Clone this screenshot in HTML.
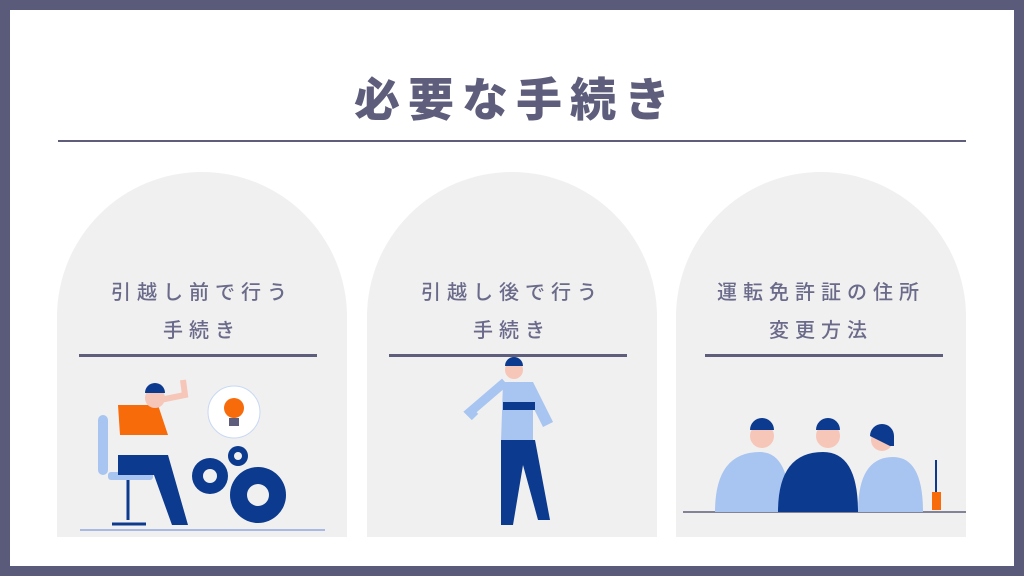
<!DOCTYPE html>
<html><head><meta charset="utf-8"><style>
body{margin:0;width:1024px;height:576px;overflow:hidden;background:#5a5b7a;font-family:"Liberation Sans","Noto Sans CJK JP",sans-serif}
.in{position:absolute;left:10px;top:10px;width:1004px;height:556px;background:#fff}
.t{position:absolute;left:4px;width:1024px;top:70px;text-align:center;font-size:46px;font-weight:900;color:#5e5e7c;letter-spacing:8px;line-height:60px}
.hl{position:absolute;left:58px;top:140px;width:908px;height:2px;background:#5e5e7c}
.c{position:absolute;top:172px;width:290px;height:365px;background:#f0f0f0;border-radius:145px 145px 0 0}
.c .l{position:absolute;left:0;width:100%;text-align:center;font-size:20px;color:#6a6a8a;letter-spacing:6px;line-height:38px;top:102px;font-weight:500}
.c .s{position:absolute;left:22px;width:238px;height:3px;top:182px;background:#5e5e7c}
svg{position:absolute;left:0;top:0}
</style></head><body>
<div class="in"></div>
<div class="t">必要な手続き</div>
<div class="hl"></div>
<div class="c" style="left:57px"><div class="l">引越し前で行う<br>手続き</div><div class="s"></div></div>
<div class="c" style="left:367px"><div class="l">引越し後で行う<br>手続き</div><div class="s"></div></div>
<div class="c" style="left:676px"><div class="l">運転免許証の住所<br>変更方法</div><div class="s" style="left:29px"></div></div>
<svg width="1024" height="576">
<line x1="80" y1="530" x2="325" y2="530" stroke="#8fa8e0" stroke-width="1.5"/>
<rect x="98" y="415" width="10" height="60" rx="5" fill="#a8c4f0"/>
<rect x="108" y="472" width="45" height="8" rx="3" fill="#a8c4f0"/>
<line x1="128" y1="480" x2="128" y2="520" stroke="#0b3a8e" stroke-width="3"/>
<line x1="112" y1="524" x2="146" y2="524" stroke="#0b3a8e" stroke-width="3"/>
<path d="M118 405 h40 l10 30 h-48 z" fill="#f76b0a"/>
<path d="M118 455 h50 l20 70 h-16 l-18-50 h-36 z" fill="#0b3a8e"/>
<circle cx="155" cy="398" r="10" fill="#f6c6b8"/><path d="M145 393 a10 10 0 0 1 20 0 z" fill="#0b3a8e"/>
<path d="M160 400 l25-5 l-2-15" stroke="#f6c6b8" stroke-width="6" fill="none"/>
<circle cx="234" cy="412" r="26" fill="#fff" stroke="#c8d8f4"/>
<circle cx="234" cy="408" r="10" fill="#f76b0a"/><rect x="229" y="418" width="10" height="8" fill="#5e5e7c"/>
<g fill="#0b3a8e"><circle cx="210" cy="476" r="18"/><circle cx="258" cy="495" r="28"/><circle cx="238" cy="456" r="10"/></g>
<g fill="#f0f0f0"><circle cx="210" cy="476" r="7"/><circle cx="258" cy="495" r="11"/><circle cx="238" cy="456" r="4"/></g>
<circle cx="514" cy="370" r="9" fill="#f6c6b8"/><path d="M505 366 a9 9 0 0 1 18 0 z" fill="#0b3a8e"/>
<path d="M503 382 h30 l20 40 l-10 5 l-10-20 v35 h-32 z" fill="#a8c4f0"/>
<rect x="503" y="402" width="32" height="8" fill="#0b3a8e"/>
<path d="M505 382 l-35 30 l5 5" stroke="#a8c4f0" stroke-width="9" fill="none"/>
<path d="M501 440 h34 l15 80 h-12 l-15-55 l-10 60 h-12 z" fill="#0b3a8e"/>
<line x1="683" y1="512" x2="966" y2="512" stroke="#5e5e7c" stroke-width="1.5"/>
<path d="M715 512 q0-60 45-60 q30 0 30 60 z" fill="#a8c4f0"/>
<circle cx="762" cy="436" r="12" fill="#f6c6b8"/><path d="M750 430 a12 12 0 0 1 24 0 z" fill="#0b3a8e"/>
<path d="M778 512 q0-60 45-60 q35 0 35 60 z" fill="#0b3a8e"/>
<circle cx="828" cy="436" r="12" fill="#f6c6b8"/><path d="M816 430 a12 12 0 0 1 24 0 z" fill="#0b3a8e"/>
<path d="M858 512 q0-55 35-55 q30 0 30 55 z" fill="#a8c4f0"/>
<circle cx="882" cy="440" r="11" fill="#f6c6b8"/><path d="M870 436 a12 12 0 0 1 24 0 v10 h-4 z" fill="#0b3a8e"/>
<rect x="932" y="492" width="9" height="18" fill="#f76b0a"/>
<line x1="936" y1="492" x2="936" y2="460" stroke="#0b3a8e" stroke-width="2"/>
</svg>
</body></html>
